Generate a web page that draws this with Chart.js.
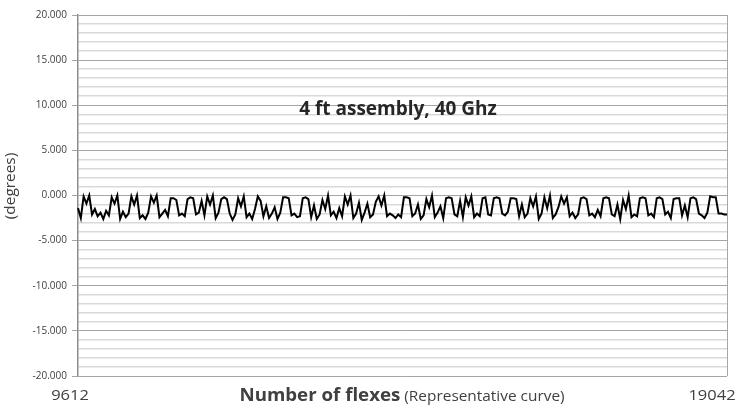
<!DOCTYPE html>
<html>
<head>
<meta charset="utf-8">
<script src="https://cdn.jsdelivr.net/npm/chart.js@4"></script>
<style>
    body { margin: 0; background: #fff; }
    #wrap { width: 737px; height: 407px; }
</style>
</head>
<body>
<div id="wrap"><canvas id="phaseChart" width="737" height="407"></canvas></div>
<script>
// Datos (grados)
const xStart = '9612';
const xEnd = '19042';
const yTicks = [-20, -15, -10, -5, 0, 5, 10, 15, 20];
const phaseValues = [
    -1.4, -2.5, -0.1, -0.9, 0.0, -2.1, -1.5, -2.3, -1.9, -2.6, -1.7, -2.2,
    -0.2, -0.9, 0.0, -2.6, -1.8, -2.4, -2.0,
    -0.1, -1.0, 0.0, -2.5, -2.2, -2.6, -1.9,
    -0.1, -0.8, 0.0, -2.4, -2.0, -1.6, -2.3,
    -0.3, -0.3, -0.5, -2.2, -2.0, -2.3,
    -0.4, -0.2, -0.3, -2.1, -1.9,
    -0.6, -2.2, -0.1, -1.0, 0.0, -2.5, -1.9,
    -0.4, -0.2, -0.4, -2.0, -2.7, -2.1,
    -0.3, -1.2, -0.1,
    -2.4, -2.0, -2.6, -1.5, -0.1, -0.6,
    -2.3, -1.2, -2.5, -2.0, -1.3, -2.6, -1.9,
    -0.2, -0.2, -0.3, -2.2, -2.0, -2.4, -2.3,
    -0.3, -0.2, -0.4, -2.4, -1.1, -2.6, -2.1,
    -0.5, -1.5, 0.0, -2.2, -1.8, -2.5, -1.4, -2.3,
    -0.1, -1.0, 0.0, -2.5, -2.0, -0.8, -2.7, -1.9, -0.9, -2.4, -2.1,
    -0.7, -0.1, -1.1, 0.0, -2.3, -2.0, -2.2, -2.5, -2.1, -2.4,
    -0.2, -0.2, -0.3, -2.3, -2.0, -1.0, -2.6, -2.2,
    -0.4, -1.3, 0.0, -2.4, -1.9, -1.2, -2.5,
    -0.3, -0.2, -0.3, -2.1, -2.3, -0.6, -2.4,
    -0.2, -1.1, -0.1, -2.4, -2.0, -2.3,
    -0.3, -0.2, -2.1, -2.2,
    -0.3, -0.2, -0.3, -2.0, -2.2, -1.8,
    -0.3, -0.3, -0.4, -2.3, -1.0, -2.4, -2.0,
    -0.3, -1.2, -0.1, -2.6, -2.0,
    -0.2, -1.4, 0.0, -2.5, -2.1, -1.3,
    -0.1, -0.9, -0.2, -2.3, -1.9, -2.5, -2.1,
    -0.3, -0.2, -0.4, -2.2, -2.0, -2.4, -1.6, -2.3,
    -0.3, -0.2, -0.3, -2.1, -2.3, -1.0, -2.6,
    -0.5, -1.5, 0.0, -2.4, -2.1, -2.3,
    -0.3, -0.2, -0.3, -2.2, -2.0, -2.4,
    -0.3, -0.2, -0.4, -2.1, -1.8, -2.5,
    -0.4, -0.3, -0.3, -2.2, -1.1, -2.4,
    -0.3, -0.2, -0.4, -2.0, -2.2, -2.5, -1.9,
    -0.1, -0.2, -0.2, -2.0, -2.0, -2.1, -2.1
];
const flexLabels = phaseValues.map((v, i) => i);

const fontFam = "'Open Sans', 'Noto Sans', sans-serif";
const stretch = 1.1; // el texto del original está algo ensanchado

// Texto ensanchado horizontalmente, centrado en (cx, cy)
function wideText(ctx, txt, cx, cy) {
    ctx.save();
    ctx.translate(cx, cy);
    ctx.scale(stretch, 1);
    ctx.textAlign = 'center';
    ctx.fillText(txt, 0, 0);
    ctx.restore();
}

// Textos y bordes extra dibujados sobre el canvas
const extrasPlugin = {
    id: 'extras',
    afterDraw(chart) {
        const ctx = chart.ctx;
        const area = chart.chartArea;
        ctx.save();
        // borde derecho
        ctx.strokeStyle = '#a6a6a6';
        ctx.lineWidth = 1;
        ctx.beginPath();
        ctx.moveTo(area.right + 0.5, area.top);
        ctx.lineTo(area.right + 0.5, area.bottom);
        ctx.stroke();

        ctx.textBaseline = 'middle';
        ctx.fillStyle = '#262626';
        ctx.textAlign = 'center';
        ctx.font = 'bold 19px ' + fontFam;
        ctx.fillText('4 ft assembly, 40 Ghz', 398, 110);

        ctx.fillStyle = '#404040';
        ctx.font = '15px ' + fontFam;
        wideText(ctx, xStart, 70, 396);
        wideText(ctx, xEnd, 712, 396);

        // título del eje X en dos partes
        const t1 = 'Number of flexes';
        const t2 = ' (Representative curve)';
        ctx.font = 'bold 17px ' + fontFam;
        const w1 = ctx.measureText(t1).width * stretch;
        ctx.font = '14px ' + fontFam;
        const w2 = ctx.measureText(t2).width * stretch;
        const x0 = 402 - (w1 + w2) / 2;
        ctx.font = 'bold 17px ' + fontFam;
        wideText(ctx, t1, x0 + w1 / 2, 396);
        ctx.font = '14px ' + fontFam;
        wideText(ctx, t2, x0 + w1 + w2 / 2, 397);

        // título del eje Y
        ctx.translate(11, 186);
        ctx.rotate(-Math.PI / 2);
        ctx.font = '14px ' + fontFam;
        wideText(ctx, '(degrees)', 0, 0);
        ctx.restore();
    }
};

const phaseCtx = document.getElementById('phaseChart');
new Chart(phaseCtx, {
    type: 'line',
    data: {
        labels: flexLabels,
        datasets: [{
            data: phaseValues,
            borderColor: '#000000',
            borderWidth: 2,
            pointRadius: 0,
            tension: 0,
            fill: false
        }]
    },
    options: {
        responsive: false,
        animation: false,
        layout: {
            padding: { left: 0, right: 10, top: 15, bottom: 31 }
        },
        plugins: {
            legend: { display: false },
            tooltip: { enabled: false }
        },
        scales: {
            x: {
                display: false,
                offset: false
            },
            y: {
                min: yTicks[0],
                max: yTicks[yTicks.length - 1],
                afterFit: function(scale) {
                    scale.width = 78;
                },
                border: {
                    display: true,
                    color: '#8c8c8c',
                    width: 1.5
                },
                grid: {
                    color: function(c) {
                        return c.tick && yTicks.includes(c.tick.value) ? '#a6a6a6' : '#d9d9d9';
                    },
                    lineWidth: function(c) {
                        return c.tick && yTicks.includes(c.tick.value) ? 1 : 1.5;
                    },
                    tickColor: function(c) {
                        return c.tick && yTicks.includes(c.tick.value) ? '#a6a6a6' : 'rgba(0,0,0,0)';
                    },
                    tickLength: 6
                },
                ticks: {
                    stepSize: 1,
                    autoSkip: false,
                    padding: 5,
                    color: '#404040',
                    font: { family: fontFam, size: 10 },
                    callback: function(value) {
                        return yTicks.includes(value) ? value.toFixed(3) : '';
                    }
                }
            }
        }
    },
    plugins: [extrasPlugin]
});
</script>
</body>
</html>
